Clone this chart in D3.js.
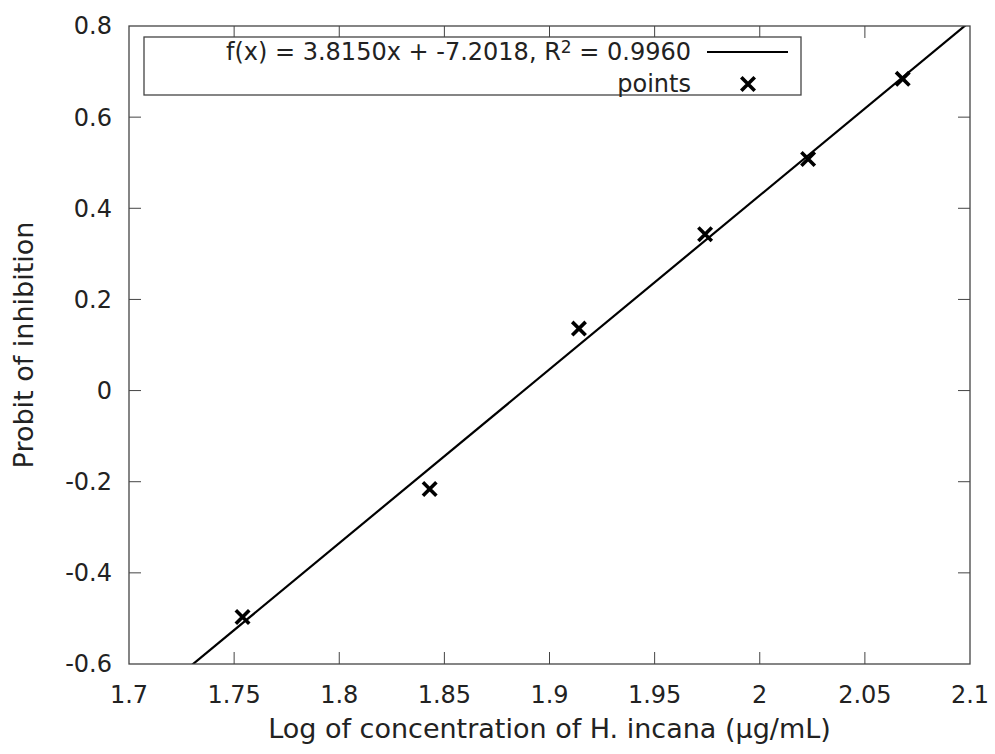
<!DOCTYPE html>
<html>
<head>
<meta charset="utf-8">
<script src="https://cdn.jsdelivr.net/npm/d3@7"></script>
<style>
  html, body { margin: 0; padding: 0; background: #fff; }
  svg { display: block; }
</style>
</head>
<body>
<div id="chart"></div>
<script>
// Measured points (log concentration vs probit)
const logConc = [1.754, 1.843, 1.914, 1.974, 2.023, 2.068];
const probit = [-0.497, -0.216, 0.136, 0.343, 0.508, 0.684];

// Fit reported in the legend
const slope = 3.8150;
const intercept = -7.2018;
const fitLabel = 'f(x) = 3.8150x + -7.2018, R';
const r2Label = ' = 0.9960';

const xTicks = [1.7, 1.75, 1.8, 1.85, 1.9, 1.95, 2, 2.05, 2.1];
const yTicks = [-0.6, -0.4, -0.2, 0, 0.2, 0.4, 0.6, 0.8];

const width = 995;
const height = 754;
const margin = { top: 26, right: 25, bottom: 90, left: 129 };
const innerW = width - margin.left - margin.right;
const innerH = height - margin.top - margin.bottom;

const font = 'DejaVu Sans, Verdana, sans-serif';
const frameColor = '#444';
const textColor = '#222';
// gnuplot style labels: plain hyphen for negatives
const fmt = d => String(+d.toFixed(2));

const svg = d3.select('#chart')
  .append('svg')
  .attr('width', width)
  .attr('height', height);

const g = svg.append('g')
  .attr('transform', `translate(${margin.left},${margin.top})`);

const x = d3.scaleLinear().domain([1.7, 2.1]).range([0, innerW]);
const y = d3.scaleLinear().domain([-0.6, 0.8]).range([innerH, 0]);

g.append('clipPath').attr('id', 'plot-clip')
  .append('rect').attr('width', innerW).attr('height', innerH);

// Ticks on all four sides, pointing inward
const tickLen = 12;
xTicks.slice(1, -1).forEach(v => {
  g.append('line')
    .attr('x1', x(v)).attr('x2', x(v))
    .attr('y1', innerH).attr('y2', innerH - tickLen)
    .attr('stroke', frameColor);
  g.append('line')
    .attr('x1', x(v)).attr('x2', x(v))
    .attr('y1', 0).attr('y2', tickLen)
    .attr('stroke', frameColor);
});
yTicks.slice(1, -1).forEach(v => {
  g.append('line')
    .attr('x1', 0).attr('x2', tickLen)
    .attr('y1', y(v)).attr('y2', y(v))
    .attr('stroke', frameColor);
  g.append('line')
    .attr('x1', innerW).attr('x2', innerW - tickLen)
    .attr('y1', y(v)).attr('y2', y(v))
    .attr('stroke', frameColor);
});

// Tick labels
g.selectAll('.xlab')
  .data(xTicks)
  .enter()
  .append('text')
  .attr('x', d => x(d))
  .attr('y', innerH + 39)
  .attr('text-anchor', 'middle')
  .attr('fill', textColor)
  .attr('font-size', '24px')
  .attr('font-family', font)
  .text(fmt);

g.selectAll('.ylab')
  .data(yTicks)
  .enter()
  .append('text')
  .attr('x', -17)
  .attr('y', d => y(d))
  .attr('dy', '0.35em')
  .attr('text-anchor', 'end')
  .attr('fill', textColor)
  .attr('font-size', '24px')
  .attr('font-family', font)
  .text(fmt);

// Fit line, clipped to the plot
const fitLine = d3.line()
  .x(d => x(d))
  .y(d => y(slope * d + intercept));

g.append('path')
  .datum(x.domain())
  .attr('d', fitLine)
  .attr('clip-path', 'url(#plot-clip)')
  .attr('fill', 'none')
  .attr('stroke', '#000')
  .attr('stroke-width', 2.2);

// Data points as crosses
const cross = d3.symbol().type(d3.symbolTimes).size(120);

g.selectAll('.pt')
  .data(logConc)
  .enter()
  .append('path')
  .attr('d', cross)
  .attr('transform', (d, i) => `translate(${x(d)},${y(probit[i])})`)
  .attr('fill', 'none')
  .attr('stroke', '#000')
  .attr('stroke-width', 3.6);

// Frame
g.append('rect')
  .attr('width', innerW)
  .attr('height', innerH)
  .attr('fill', 'none')
  .attr('stroke', frameColor)
  .attr('stroke-width', 1.3);

// Legend
const legend = svg.append('g');
legend.append('rect')
  .attr('x', 144).attr('y', 37)
  .attr('width', 657).attr('height', 58)
  .attr('fill', '#fff')
  .attr('stroke', frameColor)
  .attr('stroke-width', 1.3);

const l1 = legend.append('text')
  .attr('x', 691).attr('y', 52)
  .attr('dy', '0.35em')
  .attr('text-anchor', 'end')
  .attr('fill', textColor)
  .attr('font-size', '24px')
  .attr('font-family', font);
l1.append('tspan').text(fitLabel);
l1.append('tspan').attr('dy', '-0.45em').attr('font-size', '17px').text('2');
l1.append('tspan').attr('dy', '0.32em').text(r2Label);

legend.append('line')
  .attr('x1', 707).attr('x2', 788)
  .attr('y1', 52).attr('y2', 52)
  .attr('stroke', '#000')
  .attr('stroke-width', 2.2);

legend.append('text')
  .attr('x', 691).attr('y', 84)
  .attr('dy', '0.35em')
  .attr('text-anchor', 'end')
  .attr('fill', textColor)
  .attr('font-size', '24px')
  .attr('font-family', font)
  .text('points');

legend.append('path')
  .attr('d', cross)
  .attr('transform', 'translate(748,84)')
  .attr('fill', 'none')
  .attr('stroke', '#000')
  .attr('stroke-width', 3.6);

// Axis titles
svg.append('text')
  .attr('x', margin.left + innerW / 2)
  .attr('y', 738)
  .attr('text-anchor', 'middle')
  .attr('fill', textColor)
  .attr('font-size', '27px')
  .attr('font-family', font)
  .text('Log of concentration of H. incana (µg/mL)');

svg.append('text')
  .attr('transform', `translate(33, ${margin.top + innerH / 2}) rotate(-90)`)
  .attr('text-anchor', 'middle')
  .attr('fill', textColor)
  .attr('font-size', '27px')
  .attr('font-family', font)
  .text('Probit of inhibition');
</script>
</body>
</html>
